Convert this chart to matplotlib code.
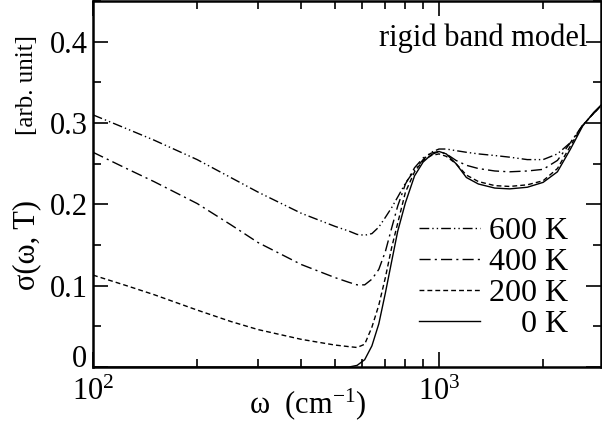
import matplotlib
matplotlib.use("Agg")
from matplotlib import pyplot as plt
from matplotlib.ticker import LogLocator, MultipleLocator, NullFormatter

plt.rcParams["font.family"] = ["Liberation Serif", "DejaVu Serif"]
plt.rcParams["mathtext.fontset"] = "custom"
plt.rcParams["mathtext.rm"] = "Liberation Serif"
plt.rcParams["mathtext.it"] = "Liberation Serif:italic"

# photon energy (cm^-1), shared by all curves
omega = [100, 125, 150, 200, 250, 300, 400, 500, 550, 580, 610, 640, 670,
         700, 730, 760, 800, 850, 900, 950, 1000, 1050, 1120, 1200, 1300,
         1450, 1600, 1800, 2000, 2200, 2400, 2600, 2800, 2940]

sigma_600 = [0.310, 0.293, 0.279, 0.255, 0.233, 0.215, 0.189, 0.173, 0.167,
             0.163, 0.162, 0.164, 0.172, 0.184, 0.196, 0.209, 0.226, 0.242,
             0.255, 0.264, 0.268, 0.268, 0.266, 0.264, 0.262, 0.260, 0.258,
             0.255, 0.255, 0.262, 0.276, 0.297, 0.312, 0.321]
sigma_400 = [0.264, 0.244, 0.228, 0.201, 0.175, 0.153, 0.126, 0.110, 0.104,
             0.101, 0.101, 0.108, 0.120, 0.142, 0.171, 0.198, 0.225, 0.245,
             0.257, 0.263, 0.265, 0.262, 0.254, 0.248, 0.244, 0.241, 0.240,
             0.241, 0.243, 0.254, 0.276, 0.297, 0.312, 0.321]
sigma_200 = [0.113, 0.100, 0.089, 0.070, 0.056, 0.046, 0.034, 0.027, 0.025,
             0.024, 0.028, 0.049, 0.076, 0.110, 0.147, 0.177, 0.215, 0.240,
             0.254, 0.260, 0.262, 0.259, 0.250, 0.236, 0.228, 0.223, 0.222,
             0.224, 0.229, 0.244, 0.272, 0.297, 0.312, 0.321]
sigma_0 = [0.0, 0.0, 0.0, 0.0, 0.0, 0.0, 0.0, 0.0, 0.0, 0.002, 0.009, 0.026,
           0.053, 0.091, 0.130, 0.167, 0.202, 0.235, 0.252, 0.261, 0.265,
           0.262, 0.250, 0.233, 0.225, 0.220, 0.219, 0.221, 0.227, 0.240,
           0.268, 0.296, 0.313, 0.322]

labels = ["600 K", "400 K", "200 K", "    0 K"]
styles = [(0, (7, 2.2, 1, 2.2, 1, 2.2)), (0, (8, 3, 1.5, 3)), (0, (3.5, 2.2)), "-"]


def main() -> None:
    fig = plt.figure(figsize=(6.02, 4.21), dpi=100)
    ax = fig.add_axes([93 / 602, 54 / 421, 508 / 602, 366 / 421])

    for ys, lab, ls in zip([sigma_600, sigma_400, sigma_200, sigma_0], labels, styles):
        ax.plot(omega, ys, color="black", linewidth=1.0, linestyle=ls, label=lab)

    ax.set_xscale("log")
    ax.set_xlim(100, 2940)
    ax.set_ylim(0, 0.45)
    ax.xaxis.set_major_locator(LogLocator(base=10))
    ax.xaxis.set_minor_locator(LogLocator(base=10, subs=range(2, 10)))
    ax.xaxis.set_minor_formatter(NullFormatter())
    ax.yaxis.set_minor_locator(MultipleLocator(0.05))
    ax.set_yticks([0, 0.1, 0.2, 0.3, 0.4])
    ax.set_yticklabels(["0", "0.1", "0.2", "0.3", "0.4"])

    ax.tick_params(which="both", direction="in", top=True, right=True,
                   labelsize=22, width=1.2)
    ax.tick_params(which="major", length=11, pad=4)
    ax.tick_params(which="minor", length=6)
    ax.tick_params(axis="x", which="major", pad=8)
    ax.get_yticklabels()[0].set_verticalalignment("baseline")
    for sp in ax.spines.values():
        sp.set_linewidth(1.8)

    ax.legend(loc="lower right", bbox_to_anchor=(0.935, 0.077), frameon=False,
              fontsize=23, handlelength=1.9, handletextpad=0.28,
              labelspacing=0.05, borderpad=0, borderaxespad=0)

    ax.text(0.974, 0.899, "rigid band model", transform=ax.transAxes,
            ha="right", va="center", fontsize=22)

    fig.text(27 / 602, 1 - 245 / 421, "σ(ω, T)", rotation=90, ha="center",
             va="center", fontsize=22)
    fig.text(27 / 602, 1 - 85 / 421, "[arb. unit]", rotation=90, ha="center",
             va="center", fontsize=18)
    fig.text(308 / 602, 1 - 404 / 421, "ω  (cm$^{-1}$)", ha="center",
             va="center", fontsize=22)

    fig.savefig("out.png", dpi=100)


if __name__ == "__main__":
    main()
